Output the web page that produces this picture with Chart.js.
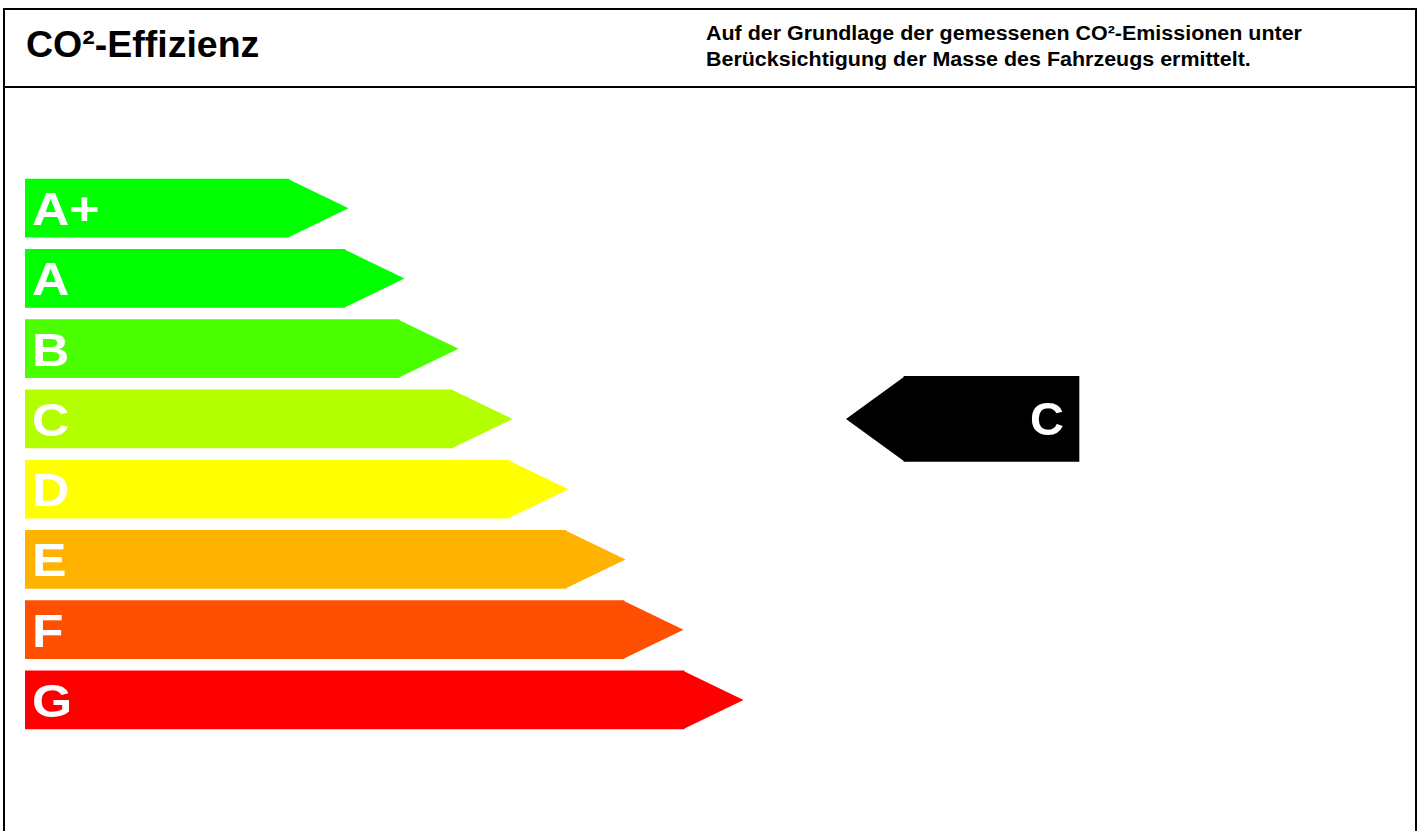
<!DOCTYPE html>
<html><head><meta charset="utf-8">
<script src="https://cdn.jsdelivr.net/npm/chart.js@4/dist/chart.umd.min.js"></script>
<style>
html,body{margin:0;padding:0;background:#fff;width:1421px;height:831px;overflow:hidden;font-family:'Liberation Sans',Arial,sans-serif;}
#frame{position:absolute;left:3px;top:8px;width:1410px;height:900px;border:2px solid #000;}
#hline{position:absolute;left:3px;top:86px;width:1414px;height:2px;background:#000;}
#title{position:absolute;left:26px;top:26px;font-weight:bold;font-size:37.5px;line-height:37px;white-space:nowrap;color:#000;}
#note{position:absolute;left:706px;top:21px;font-weight:bold;font-size:19.5px;line-height:25.5px;white-space:nowrap;color:#000;transform:scaleX(1.1);transform-origin:0 0;}
#chart{position:absolute;left:0;top:0;}
</style>
</head><body>
<div id="frame"></div>
<div id="hline"></div>
<div id="title">CO²-Effizienz</div>
<div id="note">Auf der Grundlage der gemessenen CO²-Emissionen unter<br>Berücksichtigung der Masse des Fahrzeugs ermittelt.</div>
<canvas id="chart" width="1421" height="831"></canvas>
<script>
// ---- data ----
const classes = ['A+', 'A', 'B', 'C', 'D', 'E', 'F', 'G'];
const barLengths = [264, 320, 374, 428, 484, 541, 599, 659];
const barColors = ['#00ff00', '#00ff00', '#4cff00', '#b3ff00', '#ffff00', '#ffb300', '#ff4f00', '#ff0000'];
const tipLength = 59.5;
const ratedClass = 'C';
const ratedRange = [879, 1054];
const ratedTip = 58;

const arrowPlugin = {
  id: 'arrows',
  afterDatasetsDraw(chart) {
    const ctx = chart.ctx;
    const xs = chart.scales.x;
    ctx.save();
    const m0 = chart.getDatasetMeta(0);
    m0.data.forEach((bar, i) => {
      const p = bar.getProps(['x', 'y', 'base', 'height'], true);
      const tipEnd = xs.getPixelForValue(barLengths[i] + tipLength);
      ctx.fillStyle = barColors[i];
      ctx.beginPath();
      ctx.moveTo(p.x - 0.5, p.y - p.height / 2);
      ctx.lineTo(tipEnd, p.y);
      ctx.lineTo(p.x - 0.5, p.y + p.height / 2);
      ctx.closePath();
      ctx.fill();
      ctx.save();
      ctx.fillStyle = '#ffffff';
      ctx.font = 'bold 47px "Liberation Sans", Arial, sans-serif';
      ctx.textAlign = 'left';
      ctx.textBaseline = 'alphabetic';
      ctx.translate(p.base + 7, p.y + 17);
      ctx.scale(1.1, 1);
      ctx.fillText(classes[i], 0, 0);
      ctx.restore();
    });
    const m1 = chart.getDatasetMeta(1);
    const idx = classes.indexOf(ratedClass);
    const bar = m1.data[idx];
    if (bar) {
      const p = bar.getProps(['x', 'y', 'base', 'height'], true);
      const tipEnd = xs.getPixelForValue(ratedRange[0] - ratedTip);
      ctx.fillStyle = '#000000';
      ctx.beginPath();
      ctx.moveTo(p.base + 0.5, p.y - p.height / 2);
      ctx.lineTo(tipEnd, p.y);
      ctx.lineTo(p.base + 0.5, p.y + p.height / 2);
      ctx.closePath();
      ctx.fill();
      ctx.fillStyle = '#ffffff';
      ctx.font = 'bold 47px "Liberation Sans", Arial, sans-serif';
      ctx.textAlign = 'right';
      ctx.textBaseline = 'alphabetic';
      ctx.fillText(ratedClass, p.x - 15, p.y + 16);
    }
    ctx.restore();
  }
};

new Chart(document.getElementById('chart'), {
  type: 'bar',
  data: {
    labels: classes,
    datasets: [
      {
        data: barLengths.map(v => [0, v]),
        backgroundColor: barColors,
        borderWidth: 0,
        barThickness: 58,
        grouped: false
      },
      {
        data: classes.map(c => c === ratedClass ? ratedRange : null),
        backgroundColor: '#000000',
        borderWidth: 0,
        barThickness: 85,
        grouped: false
      }
    ]
  },
  options: {
    indexAxis: 'y',
    responsive: false,
    devicePixelRatio: 1,
    animation: false,
    layout: { padding: { left: 25, right: 21, top: 173, bottom: 96 } },
    scales: {
      x: { type: 'linear', min: 0, max: 1375, display: false },
      y: { type: 'category', display: false, offset: true }
    },
    plugins: { legend: { display: false }, tooltip: { enabled: false }, title: { display: false } }
  },
  plugins: [arrowPlugin]
});
</script>
</body></html>
